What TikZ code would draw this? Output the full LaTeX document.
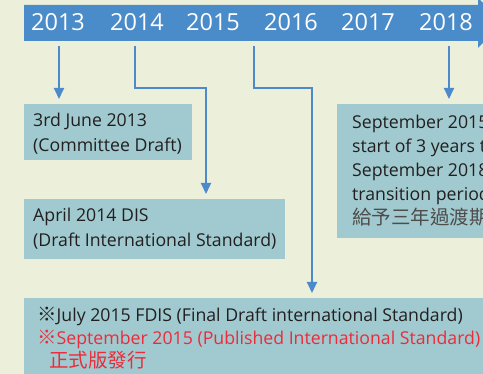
\documentclass[tikz,border=0pt]{standalone}
\usepackage{fontspec}
\setmainfont{Open Sans}
\newfontfamily\cjk{Noto Sans CJK TC}
\usetikzlibrary{arrows.meta}
\definecolor{bg}{HTML}{ECF0DB}
\definecolor{barblue}{HTML}{4A8BC9}
\definecolor{arrblue}{HTML}{4D8ACB}
\definecolor{boxfill}{HTML}{A0CACF}
\definecolor{txt}{HTML}{231F20}
\definecolor{redtxt}{HTML}{EE2A3A}
\newcommand{\cj}[1]{{\cjk\fontsize{19.5}{24}\selectfont #1}}
\tikzset{
  yr/.style={anchor=base, text=white, inner sep=0, font=\fontsize{23.5}{24}\selectfont},
  box/.style={fill=boxfill, draw=none, anchor=north west, inner sep=0},
  ln/.style={anchor=base west, inner sep=0, text=txt, font=\fontsize{17.7}{24}\selectfont},
  arr/.style={draw=arrblue, line width=2pt, -{Triangle[width=10pt,length=11pt]}, shorten >=5pt}
}
\begin{document}
\begin{tikzpicture}[x=1pt,y=-1pt]
\useasboundingbox (0,0) rectangle (483,374);
\clip (0,0) rectangle (483,374);
\fill[bg] (0,0) rectangle (483,374);
\fill[barblue] (24,5) -- (478,5) -- (478,-2) -- (503,23) -- (478,48) -- (478,41) -- (24,41) -- cycle;
\node[yr] (y2013) at (58,30.7) {2013};
\node[yr] (y2014) at (137,30.7) {2014};
\node[yr] (y2015) at (213,30.7) {2015};
\node[yr] (y2016) at (291,30.7) {2016};
\node[yr] (y2017) at (368,30.7) {2017};
\node[yr] (y2018) at (446,30.7) {2018};
% boxes
\node[box, minimum width=168pt, minimum height=56pt] (b1) at (24,104) {};
\node[box, minimum width=261pt, minimum height=60pt] (b2) at (24,199) {};
\node[box, minimum width=160pt, minimum height=134pt] (b3) at (337,104) {};
\node[box, minimum width=480pt, minimum height=90pt] (b4) at (24,298) {};
% texts
\node[ln] (t11) at (33,127) {3rd June 2013};
\node[ln] (t12) at (33,152) {(Committee Draft)};
\node[ln] (t21) at (33,222) {April 2014 DIS};
\node[ln] (t22) at (33,247) {(Draft International Standard)};
\node[ln] (t31) at (352,129) {September 2015};
\node[ln] (t32) at (352,153) {start of 3 years transition};
\node[ln] (t33) at (352,177) {September 2018};
\node[ln] (t34) at (352,201) {transition period ends};
\node[ln, text=txt!80] (t35) at (352,225) {\cj{給予三年過渡期}};
\node[ln] (t41) at (37,322) {\cj{※}July 2015 FDIS (Final Draft international Standard)};
\node[ln, text=redtxt] (t42) at (37,345) {\cj{※}September 2015 (Published International Standard)};
\node[ln, text=redtxt] (t43) at (49,368) {\cj{正式版發行}};
% connectors
\coordinate (a1) at (59,46);
\coordinate (a2) at (135,46);
\coordinate (k2) at (206,88);
\coordinate (a3) at (254,46);
\coordinate (k3) at (312,88);
\coordinate (a4) at (449,46);
\draw[arr] (a1) -- (a1 |- b1.north);
\draw[arr] (a2) |- (k2) -- (k2 |- b2.north);
\draw[arr] (a3) |- (k3) -- (k3 |- b4.north);
\draw[arr] (a4) -- (a4 |- b3.north);
\end{tikzpicture}
\end{document}
